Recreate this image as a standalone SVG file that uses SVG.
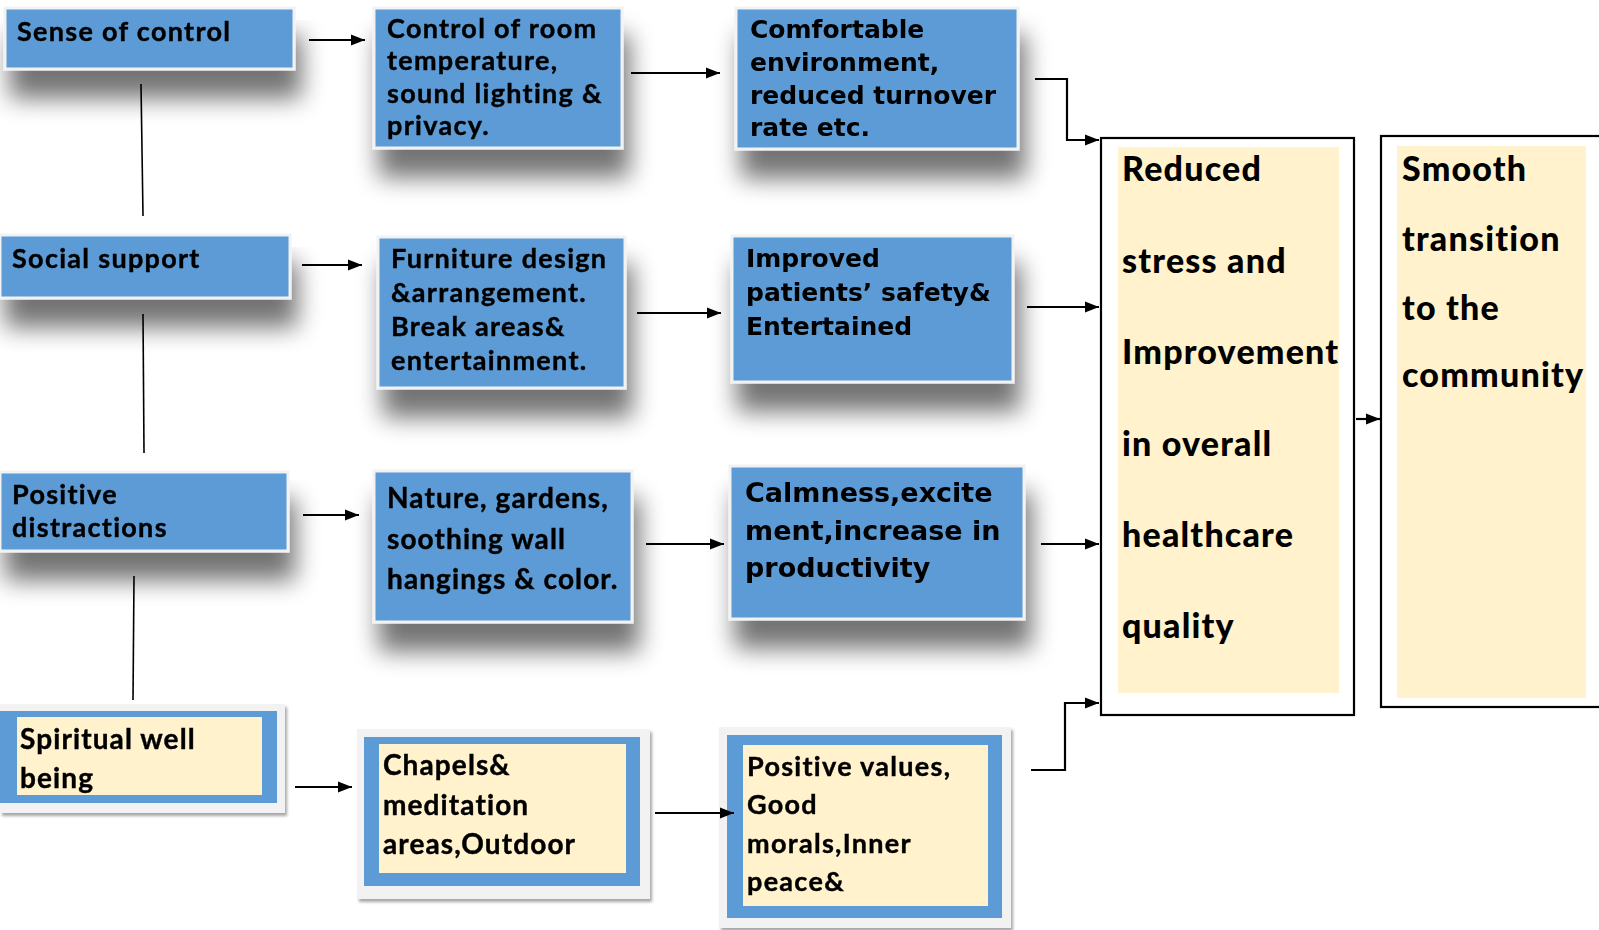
<svg xmlns="http://www.w3.org/2000/svg" width="1599" height="930" viewBox="0 0 1599 930">
<defs>
<filter id="sh" x="-25%" y="-25%" width="160%" height="220%">
<feGaussianBlur in="SourceAlpha" stdDeviation="12"/>
<feOffset dx="6" dy="28" result="b"/>
<feComponentTransfer><feFuncA type="linear" slope="0.55"/></feComponentTransfer>
<feMerge><feMergeNode/><feMergeNode in="SourceGraphic"/></feMerge>
</filter>
<filter id="sh2" x="-10%" y="-10%" width="130%" height="130%">
<feGaussianBlur in="SourceAlpha" stdDeviation="1.5"/>
<feOffset dx="2" dy="3"/>
<feComponentTransfer><feFuncA type="linear" slope="0.35"/></feComponentTransfer>
<feMerge><feMergeNode/><feMergeNode in="SourceGraphic"/></feMerge>
</filter>
<marker id="ah2" viewBox="0 0 10 10" refX="10" refY="5" markerWidth="14" markerHeight="14" markerUnits="userSpaceOnUse" orient="auto">
<path d="M0,1 L10,5 L0,9 z" fill="#000"/>
</marker>
</defs>
<style>
.blue{fill:#5B9BD5;stroke:#F2F2F2;stroke-width:3}
.frame{fill:#F2F2F2}
.inblue{fill:#5B9BD5}
.cream{fill:#FFF2CC}
.t{font-family:Lato,"Liberation Sans",sans-serif;font-weight:700;font-size:27px;letter-spacing:1.3px;fill:#000;stroke:#000;stroke-width:0.4}
.n{font-size:28px;letter-spacing:1.1px}
.w{font-family:"DejaVu Sans","Liberation Sans",sans-serif;font-weight:700;font-size:25px;fill:#000}
.big{font-family:Lato,"Liberation Sans",sans-serif;font-weight:900;font-size:34px;letter-spacing:1.2px;fill:#000}
.c{fill:none;stroke:#000;stroke-width:2.2}
.v{fill:none;stroke:#000;stroke-width:1.6}
</style>
<rect width="1599" height="930" fill="#fff"/>

<g id="n-sense" filter="url(#sh)">
<rect class="blue" x="5" y="8" width="289" height="61"/>
<text class="t" x="17" y="41">Sense of control</text>
</g>
<g id="n-control" filter="url(#sh)">
<rect class="blue" x="374" y="8" width="248" height="140"/>
<text class="t" x="387" y="38">Control of room</text>
<text class="t" x="387" y="70">temperature,</text>
<text class="t" x="387" y="103">sound lighting &amp;</text>
<text class="t" x="387" y="135">privacy.</text>
</g>
<g id="n-comfort" filter="url(#sh)">
<rect class="blue" x="736" y="8" width="282" height="141"/>
<text class="w" x="750" y="38">Comfortable</text>
<text class="w" x="750" y="71">environment,</text>
<text class="w" x="750" y="104">reduced turnover</text>
<text class="w" x="750" y="136">rate etc.</text>
</g>

<g id="n-social" filter="url(#sh)">
<rect class="blue" x="0" y="235" width="290" height="63"/>
<text class="t" x="12" y="268">Social support</text>
</g>
<g id="n-furniture" filter="url(#sh)">
<rect class="blue" x="378" y="237" width="247" height="151"/>
<text class="t" x="391" y="268">Furniture design</text>
<text class="t" x="391" y="302">&amp;arrangement.</text>
<text class="t" x="391" y="336">Break areas&amp;</text>
<text class="t" x="391" y="370">entertainment.</text>
</g>
<g id="n-improved" filter="url(#sh)">
<rect class="blue" x="732" y="236" width="281" height="146"/>
<text class="w" x="746" y="267">Improved</text>
<text class="w" x="746" y="301">patients’ safety&amp;</text>
<text class="w" x="746" y="335">Entertained</text>
</g>

<g id="n-positive" filter="url(#sh)">
<rect class="blue" x="0" y="472" width="288" height="79"/>
<text class="t" x="12" y="504">Positive</text>
<text class="t" x="12" y="537">distractions</text>
</g>
<g id="n-nature" filter="url(#sh)">
<rect class="blue" x="374" y="471" width="258" height="151"/>
<text class="t n" x="387" y="508">Nature, gardens,</text>
<text class="t n" x="387" y="549">soothing wall</text>
<text class="t n" x="387" y="589">hangings &amp; color.</text>
</g>
<g id="n-calm" filter="url(#sh)">
<rect class="blue" x="730" y="466" width="294" height="153"/>
<text class="w" x="745" y="502" style="font-size:27px">Calmness,excite</text>
<text class="w" x="745" y="540" style="font-size:27px">ment,increase in</text>
<text class="w" x="745" y="577" style="font-size:27px">productivity</text>
</g>

<g id="n-spiritual" filter="url(#sh2)">
<rect class="frame" x="0" y="704" width="285" height="109"/>
<rect class="inblue" x="0" y="711" width="277" height="92"/>
<rect class="cream" x="17" y="717" width="245" height="78"/>
<text class="t n" x="20" y="749">Spiritual well</text>
<text class="t n" x="20" y="788">being</text>
</g>
<g id="n-chapels" filter="url(#sh2)">
<rect class="frame" x="357" y="729" width="293" height="170"/>
<rect class="inblue" x="364" y="737" width="276" height="149"/>
<rect class="cream" x="379" y="744" width="247" height="129"/>
<text class="t n" x="383" y="775">Chapels&amp;</text>
<text class="t n" x="383" y="815">meditation</text>
<text class="t n" x="383" y="854">areas,Outdoor</text>
</g>
<g id="n-values" filter="url(#sh2)">
<rect class="frame" x="719" y="727" width="292" height="201"/>
<rect class="inblue" x="727" y="735" width="275" height="183"/>
<rect class="cream" x="743" y="745" width="245" height="161"/>
<text class="t" x="747" y="776">Positive values,</text>
<text class="t" x="747" y="814">Good</text>
<text class="t" x="747" y="853">morals,Inner</text>
<text class="t" x="747" y="891">peace&amp;</text>
</g>

<g id="n-reduced">
<rect x="1101" y="138" width="253" height="577" fill="#fff" stroke="#000" stroke-width="2.2"/>
<rect class="cream" x="1118" y="147" width="221" height="546"/>
<text class="big" x="1122" y="181">Reduced</text>
<text class="big" x="1122" y="273">stress and</text>
<text class="big" x="1122" y="364">Improvement</text>
<text class="big" x="1122" y="456">in overall</text>
<text class="big" x="1122" y="547">healthcare</text>
<text class="big" x="1122" y="638">quality</text>
</g>
<g id="n-smooth">
<rect x="1381" y="136" width="230" height="571" fill="#fff" stroke="#000" stroke-width="2.2"/>
<rect class="cream" x="1397" y="146" width="189" height="552"/>
<text class="big" x="1402" y="181">Smooth</text>
<text class="big" x="1402" y="251">transition</text>
<text class="big" x="1402" y="320">to the</text>
<text class="big" x="1402" y="387">community</text>
</g>

<g id="connectors">
<line class="v" x1="141" y1="84" x2="143" y2="216"/>
<line class="v" x1="143" y1="314" x2="144" y2="453"/>
<line class="v" x1="134" y1="576" x2="133" y2="700"/>

<line class="c" x1="309" y1="40" x2="365" y2="40" marker-end="url(#ah2)"/>
<line class="c" x1="631" y1="73" x2="720" y2="73" marker-end="url(#ah2)"/>
<polyline class="c" points="1035,79 1067,79 1067,140 1099,140" marker-end="url(#ah2)"/>

<line class="c" x1="302" y1="265" x2="362" y2="265" marker-end="url(#ah2)"/>
<line class="c" x1="637" y1="313" x2="721" y2="313" marker-end="url(#ah2)"/>
<line class="c" x1="1027" y1="307" x2="1099" y2="307" marker-end="url(#ah2)"/>

<line class="c" x1="303" y1="515" x2="359" y2="515" marker-end="url(#ah2)"/>
<line class="c" x1="646" y1="544" x2="724" y2="544" marker-end="url(#ah2)"/>
<line class="c" x1="1041" y1="544" x2="1099" y2="544" marker-end="url(#ah2)"/>

<line class="c" x1="295" y1="787" x2="352" y2="787" marker-end="url(#ah2)"/>
<line class="c" x1="655" y1="813" x2="734" y2="813" marker-end="url(#ah2)"/>
<polyline class="c" points="1031,770 1065,770 1065,703 1099,703" marker-end="url(#ah2)"/>

<line class="c" x1="1356" y1="419" x2="1380" y2="419" marker-end="url(#ah2)"/>
</g>
</svg>
